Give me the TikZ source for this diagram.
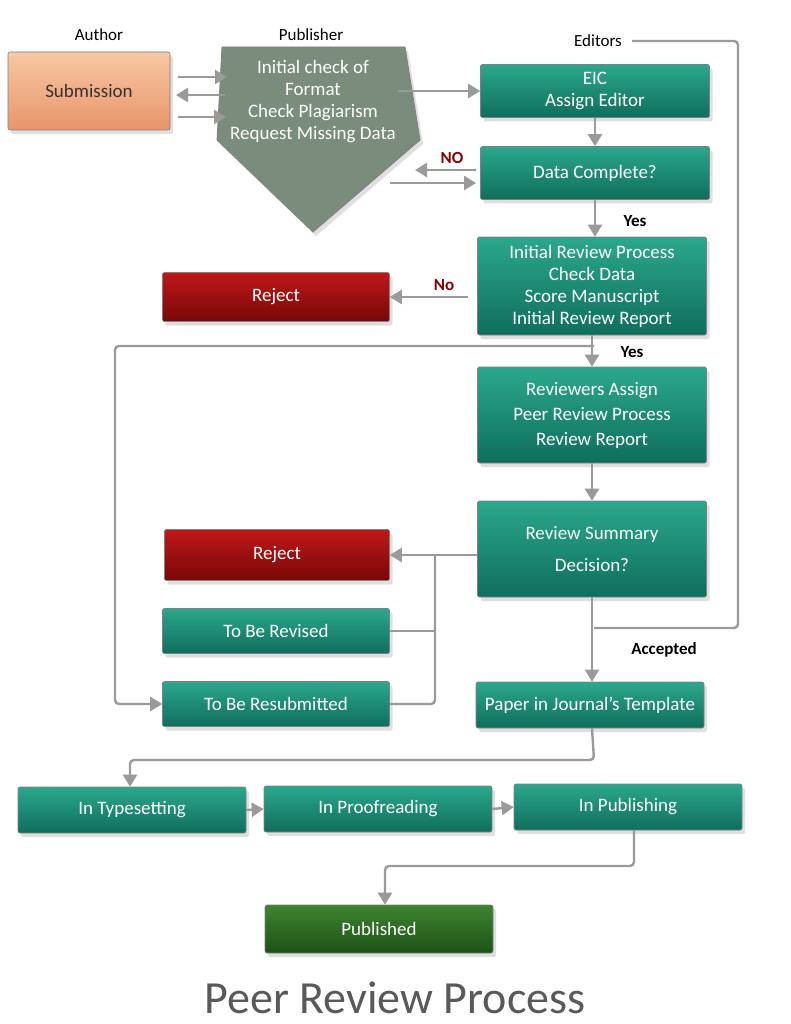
\documentclass[tikz,border=0pt]{standalone}
\usepackage{fontspec}
\setmainfont{Carlito}
\usetikzlibrary{arrows.meta,shadows}
\definecolor{tealT}{HTML}{2BA88C}
\definecolor{tealB}{HTML}{0F6E5C}
\definecolor{redT}{HTML}{C01818}
\definecolor{redB}{HTML}{780808}
\definecolor{orT}{HTML}{F8C8A4}
\definecolor{orB}{HTML}{E8956A}
\definecolor{grT}{HTML}{3E8430}
\definecolor{grB}{HTML}{1C5216}
\definecolor{pent}{HTML}{7A8C7C}
\definecolor{pipe}{HTML}{9A9A9A}
\begin{document}
\begin{tikzpicture}[x=1pt,y=-1pt,
 box/.style={rectangle,rounded corners=2pt,draw=black!50,line width=0.6pt,text=white,font=\fontsize{19}{22}\selectfont,align=center,inner sep=0pt,drop shadow={opacity=0.25,shadow xshift=3pt,shadow yshift=-4pt}},
 teal/.style={box,top color=tealT,bottom color=tealB},
 redb/.style={box,top color=redT,bottom color=redB},
 pipe/.style={draw=pipe,line width=2.4pt,rounded corners=4pt},
 arr/.style={pipe,-{Triangle[length=12pt,width=14pt]}},
 lab/.style={font=\bfseries\fontsize{17}{19}\selectfont}]
\useasboundingbox[fill=white] (0,0) rectangle (790,1024);
% labels
\node (lA) at (99,35) {\fontsize{17}{19}\selectfont Author};
\node (lP) at (311,35) {\fontsize{17}{19}\selectfont Publisher};
\node (lE) at (598,41) {\fontsize{17}{19}\selectfont Editors};
% boxes
\node[box,top color=orT,bottom color=orB,text=black!80,minimum width=162pt,minimum height=78pt] (sub) at (89,91) {Submission};
\filldraw[draw=black!50,fill=pent,line width=0.8pt,drop shadow={opacity=0.25,shadow xshift=3pt,shadow yshift=-4pt}] (222,47) -- (405,47) -- (420,140) -- (313,232) -- (217,140) -- cycle;
\node[text=white,align=center,font=\fontsize{19}{22}\selectfont] (pen) at (313,102) {Initial check of\\Format\\Check Plagiarism\\Request Missing Data};
\node[teal,minimum width=229pt,minimum height=53pt] (eic) at (595,91) {EIC\\Assign Editor};
\node[teal,minimum width=229pt,minimum height=53pt] (dc) at (595,173) {Data Complete?};
\node[teal,minimum width=229pt,minimum height=98pt] (irp) at (592,286) {Initial Review Process\\Check Data\\Score Manuscript\\Initial Review Report};
\node[redb,minimum width=227pt,minimum height=49pt] (rj1) at (276,297) {Reject};
\node[teal,minimum width=229pt,minimum height=96pt] (rev) at (592,415) {Reviewers Assign\\[3pt]Peer Review Process\\[3pt]Review Report};
\node[teal,minimum width=229pt,minimum height=96pt] (sum) at (592,549) {Review Summary\\[10pt]Decision?};
\node[redb,minimum width=225pt,minimum height=51pt] (rj2) at (277,555) {Reject};
\node[teal,minimum width=227pt,minimum height=45pt] (tbr) at (276,631) {To Be Revised};
\node[teal,minimum width=227pt,minimum height=45pt] (tbs) at (276,704) {To Be Resubmitted};
\node[teal,minimum width=228pt,minimum height=46pt] (pjt) at (590,705) {Paper in Journal's Template};
\node[teal,minimum width=228pt,minimum height=46pt] (ts) at (132,810) {In Typesetting};
\node[teal,minimum width=228pt,minimum height=46pt] (pr) at (378,809) {In Proofreading};
\node[teal,minimum width=228pt,minimum height=46pt] (pb) at (628,807) {In Publishing};
\node[box,top color=grT,bottom color=grB,minimum width=228pt,minimum height=48pt] (pub) at (379,929) {Published};
\node[text=black!65,font=\fontsize{46}{50}\selectfont] (title) at (395,998) {Peer Review Process};
% coordinates
\coordinate (e1) at (632,41);
\coordinate (j1) at (594,628);
\coordinate (j2) at (594,346);
\coordinate (b1) at (435,555);
% top arrows
\draw[arr] (178,77) -- (227,77);
\draw[arr] (225,95) -- (176,95);
\draw[arr] (178,117) -- (226,117);
\draw[arr] (398,91) -- (eic.west);
\draw[arr] (476,170) -- (415,170);
\draw[arr] (390,183) -- (476,183);
\draw[arr] (eic.south) -- (dc.south |- dc.north);
\draw[arr] (dc.south) -- (irp.north -| dc.south);
\draw[arr] (468,297) -- (rj1.east);
\draw[arr] (irp.south) -- (rev.north);
\draw[arr] (rev.south) -- (sum.north);
\draw[pipe] (e1) -- (738,41) -- (738,628) -- (j1);
\draw[arr] (j2) -- (115,346) -- (115,704) -- (tbs.west);
\draw[arr] (sum.west |- rj2) -- (rj2.east);
\draw[pipe] (b1) -- (435,704) -- (tbs.east);
\draw[pipe] (tbr.east) -- (435,631);
\draw[arr] (sum.south) -- (pjt.north -| sum.south);
\draw[arr] (pjt.south -| sum.south) -- (594,760) -- (130,760) -- (ts.north -| 130,0);
\draw[arr] (ts.east) -- (pr.west);
\draw[arr] (pr.east) -- (pb.west);
\draw[arr] (pb.south -| 634,0) -- (634,866) -- (385,866) -- (pub.north -| 385,0);
% edge labels
\node[lab,text=red!55!black] (lNO) at (452,158) {NO};
\node[lab] (lY1) at (635,221) {Yes};
\node[lab,text=red!55!black] (lNo) at (444,285) {No};
\node[lab] (lY2) at (632,352) {Yes};
\node[lab] (lAc) at (664,650) {Accepted};
\end{tikzpicture}
\end{document}
